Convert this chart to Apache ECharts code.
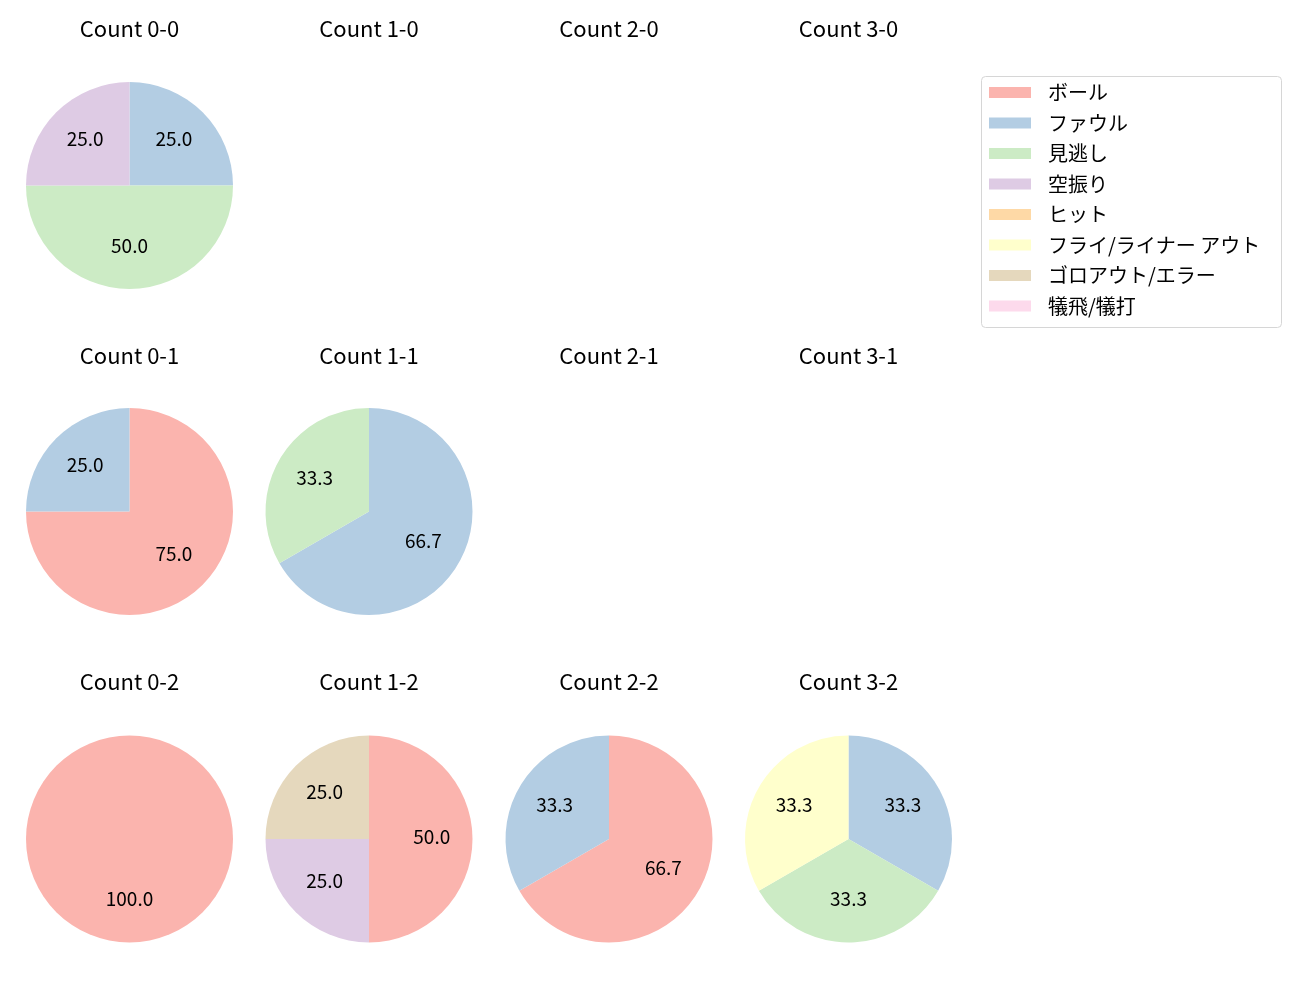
<!DOCTYPE html>
<html><head><meta charset="utf-8">
<script src="https://cdn.jsdelivr.net/npm/echarts@6/dist/echarts.min.js"></script>
<style>html,body{margin:0;padding:0;background:#fff}#c{width:1300px;height:1000px}</style>
</head><body><div id="c"></div>
<script>
const categories = ['ボール','ファウル','見逃し','空振り','ヒット','フライ/ライナー アウト','ゴロアウト/エラー','犠飛/犠打'];
const colors = ['#fbb4ae','#b3cde3','#ccebc5','#decbe4','#fed9a6','#ffffcc','#e5d8bd','#fddaec'];
const countTitles = ['Count 0-0','Count 1-0','Count 2-0','Count 3-0','Count 0-1','Count 1-1','Count 2-1','Count 3-1','Count 0-2','Count 1-2','Count 2-2','Count 3-2'];
const c00 = [0,1,2,1,0,0,0,0];
const c10 = [0,0,0,0,0,0,0,0];
const c20 = [0,0,0,0,0,0,0,0];
const c30 = [0,0,0,0,0,0,0,0];
const c01 = [3,1,0,0,0,0,0,0];
const c11 = [0,2,1,0,0,0,0,0];
const c21 = [0,0,0,0,0,0,0,0];
const c31 = [0,0,0,0,0,0,0,0];
const c02 = [1,0,0,0,0,0,0,0];
const c12 = [2,0,0,1,0,0,1,0];
const c22 = [2,1,0,0,0,0,0,0];
const c32 = [0,1,1,0,0,1,0,0];
const countData = [c00,c10,c20,c30,c01,c11,c21,c31,c02,c12,c22,c32];

const colX = [129.5, 369, 609, 848.5];
const rowY = [185.5, 511.5, 839];
const titleY = [29, 356, 682];
const R = 103.5;
const FONT = '"Noto Sans CJK JP", "Noto Sans", sans-serif';

const titles = [];
const series = [];
countData.forEach((arr, i) => {
  const col = i % 4, row = Math.floor(i / 4);
  titles.push({
    text: countTitles[i], left: colX[col], top: titleY[row] - 12.5, textAlign: 'center', padding: 0,
    textStyle: {fontFamily: FONT, fontSize: 22, fontWeight: 'normal', color: '#000', lineHeight: 24}
  });
  const total = arr.reduce((a, b) => a + b, 0);
  if (total === 0) return;
  const items = [];
  arr.forEach((v, k) => { if (v > 0) items.push({name: categories[k], value: v, itemStyle: {color: colors[k]}}); });
  series.push({
    type: 'pie', center: [colX[col], rowY[row]], radius: [0, R], startAngle: 90, clockwise: true,
    animation: false, silent: true, label: {show: false}, labelLine: {show: false},
    itemStyle: {borderWidth: 0}, emphasis: {disabled: true}, data: items
  });
  series.push({
    type: 'pie', center: [colX[col], rowY[row]], radius: [0, R * 1.155], startAngle: 90, clockwise: true,
    animation: false, silent: true, legendHoverLink: false,
    itemStyle: {color: 'rgba(0,0,0,0)', borderWidth: 0}, emphasis: {disabled: true},
    label: {show: true, position: 'inside', fontFamily: FONT, fontSize: 19, color: '#000', offset: [0, -2.5],
      formatter: p => p.value > 0 ? (p.value / total * 100).toFixed(1) : ''},
    labelLine: {show: false},
    data: items.map(d => ({name: d.name, value: d.value}))
  });
});
// hidden series so that every category is registered for the legend
series.push({
  type: 'pie', center: [-1000, -1000], radius: [0, 1], animation: false, silent: true,
  label: {show: false}, labelLine: {show: false}, emphasis: {disabled: true},
  data: categories.map((n, k) => ({name: n, value: 1, itemStyle: {color: colors[k]}}))
});

const chart = echarts.init(document.getElementById('c'), null, {renderer: 'canvas'});
chart.setOption({
  animation: false,
  title: titles,
  graphic: [{type: 'rect', shape: {x: 981.5, y: 76.5, width: 300, height: 251, r: 4},
    style: {fill: '#fff', stroke: '#d6d6d6', lineWidth: 1}, z: 0}],
  legend: {
    orient: 'vertical', left: 989, top: 82.5, padding: 0, itemWidth: 42, itemHeight: 11, itemGap: 10.5,
    icon: 'rect', selectedMode: false, z: 10,
    textStyle: {fontFamily: FONT, fontSize: 20, color: '#000', lineHeight: 20, padding: [0, 0, 0, 12]},
    data: categories.map((n, k) => ({name: n, itemStyle: {color: colors[k]}}))
  },
  series: series
});
</script></body></html>
